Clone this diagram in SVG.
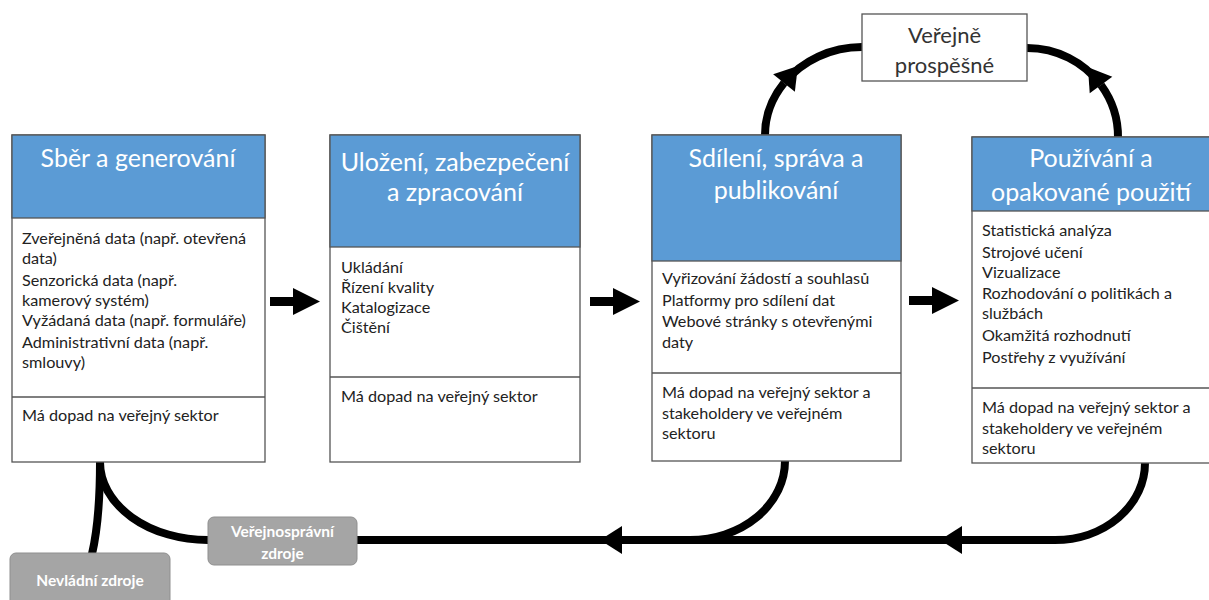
<svg xmlns="http://www.w3.org/2000/svg" width="1209" height="600" viewBox="0 0 1209 600">
<style>
.box{fill:#fff;stroke:#555;stroke-width:1.3}
.hdr{fill:#5B9BD5;stroke:#555;stroke-width:1.3}
.div{stroke:#555;stroke-width:1.3}
.ht{font-family:Lato,"Open Sans",sans-serif;font-size:25px;fill:#fff;text-anchor:middle}
.bt{font-family:Lato,"Open Sans",sans-serif;font-size:16.2px;fill:#222}
.gb{fill:#A5A5A5;stroke:#8f8f8f;stroke-width:1}
.gt{font-family:Lato,"Open Sans",sans-serif;font-size:15.5px;font-weight:bold;fill:#fff;text-anchor:middle}
.vt{font-family:Lato,"Open Sans",sans-serif;font-size:22px;fill:#333;text-anchor:middle}
.ln{fill:none;stroke:#000;stroke-width:8}
</style>
<defs>
<marker id="ah" markerUnits="userSpaceOnUse" markerWidth="24" markerHeight="30" refX="0" refY="14" orient="auto" overflow="visible">
<path d="M0,0 L22,14 L0,28 Z" fill="#000"/>
</marker>
<path id="bigArrow" d="M0,9 H23 V0 L50,13.5 L23,27 V18 H0 Z" fill="#000"/>
</defs>

<g id="connectors">
<use href="#bigArrow" x="270" y="288"/>
<use href="#bigArrow" x="590" y="288"/>
<use href="#bigArrow" x="909" y="287"/>
<path class="ln" d="M765,136 A97,88 0 0 1 784,83" marker-end="url(#ah)"/>
<path class="ln" d="M784,83 A97,88 0 0 1 862,47"/>
<path class="ln" d="M1118,138 A91,89 0 0 0 1101,85" marker-end="url(#ah)"/>
<path class="ln" d="M1101,85 A91,89 0 0 0 1027,48"/>
<path class="ln" d="M1145,463 A90,77 0 0 1 1055,540 L962,540" marker-end="url(#ah)"/>
<path class="ln" d="M962,540 L622,540" marker-end="url(#ah)"/>
<path class="ln" d="M622,540 L357,540"/>
<path class="ln" d="M785,461 A95,79 0 0 1 690,540"/>
<path class="ln" d="M100,462 A108,78 0 0 0 208,540"/>
<path class="ln" d="M100,462 Q100,520 92,554"/>
</g>

<g id="node-sber">
<rect class="box" x="12" y="135" width="253" height="327"/>
<rect class="hdr" x="12" y="135" width="253" height="83"/>
<line class="div" x1="12" y1="397" x2="265" y2="397"/>
<text class="ht" x="138" y="167">Sběr a generování</text>
<text class="bt" x="22" y="244">Zveřejněná data (např. otevřená</text>
<text class="bt" x="22" y="264">data)</text>
<text class="bt" x="22" y="286">Senzorická data (např.</text>
<text class="bt" x="22" y="306">kamerový systém)</text>
<text class="bt" x="22" y="326">Vyžádaná data (např. formuláře)</text>
<text class="bt" x="22" y="348">Administrativní data (např.</text>
<text class="bt" x="22" y="368">smlouvy)</text>
<text class="bt" x="22" y="421">Má dopad na veřejný sektor</text>
</g>

<g id="node-ulozeni">
<rect class="box" x="330" y="135" width="250" height="327"/>
<rect class="hdr" x="330" y="135" width="250" height="112"/>
<line class="div" x1="330" y1="377" x2="580" y2="377"/>
<text class="ht" x="455" y="171">Uložení, zabezpečení</text>
<text class="ht" x="455" y="201">a zpracování</text>
<text class="bt" x="341" y="273">Ukládání</text>
<text class="bt" x="341" y="293">Řízení kvality</text>
<text class="bt" x="341" y="313">Katalogizace</text>
<text class="bt" x="341" y="333">Čištění</text>
<text class="bt" x="341" y="402">Má dopad na veřejný sektor</text>
</g>

<g id="node-sdileni">
<rect class="box" x="652" y="135" width="249" height="326"/>
<rect class="hdr" x="652" y="135" width="249" height="126"/>
<line class="div" x1="652" y1="373" x2="901" y2="373"/>
<text class="ht" x="776" y="167">Sdílení, správa a</text>
<text class="ht" x="776" y="199">publikování</text>
<text class="bt" x="662" y="284">Vyřizování žádostí a souhlasů</text>
<text class="bt" x="662" y="306">Platformy pro sdílení dat</text>
<text class="bt" x="662" y="327">Webové stránky s otevřenými</text>
<text class="bt" x="662" y="348">daty</text>
<text class="bt" x="662" y="398">Má dopad na veřejný sektor a</text>
<text class="bt" x="662" y="419">stakeholdery ve veřejném</text>
<text class="bt" x="662" y="439">sektoru</text>
</g>

<g id="node-pouzivani">
<rect class="box" x="972" y="137" width="250" height="326"/>
<rect class="hdr" x="972" y="137" width="250" height="74"/>
<line class="div" x1="972" y1="388" x2="1222" y2="388"/>
<text class="ht" x="1091" y="167">Používání a</text>
<text class="ht" x="1091" y="201">opakované použití</text>
<text class="bt" x="982" y="236">Statistická analýza</text>
<text class="bt" x="982" y="258">Strojové učení</text>
<text class="bt" x="982" y="278">Vizualizace</text>
<text class="bt" x="982" y="299">Rozhodování o politikách a</text>
<text class="bt" x="982" y="319">službách</text>
<text class="bt" x="982" y="341">Okamžitá rozhodnutí</text>
<text class="bt" x="982" y="363">Postřehy z využívání</text>
<text class="bt" x="982" y="413">Má dopad na veřejný sektor a</text>
<text class="bt" x="982" y="434">stakeholdery ve veřejném</text>
<text class="bt" x="982" y="454">sektoru</text>
</g>

<g id="node-verejne">
<rect class="box" x="862" y="14" width="165" height="67"/>
<text class="vt" x="944.5" y="43">Veřejně</text>
<text class="vt" x="944.5" y="73">prospěšné</text>
</g>

<g id="node-verejnospravni">
<rect class="gb" x="208" y="517" width="149" height="48" rx="6"/>
<text class="gt" x="282.5" y="537">Veřejnosprávní</text>
<text class="gt" x="282.5" y="559">zdroje</text>
</g>

<g id="node-nevladni">
<rect class="gb" x="10" y="553" width="160" height="56" rx="6"/>
<text class="gt" x="90" y="586">Nevládní zdroje</text>
</g>
</svg>
